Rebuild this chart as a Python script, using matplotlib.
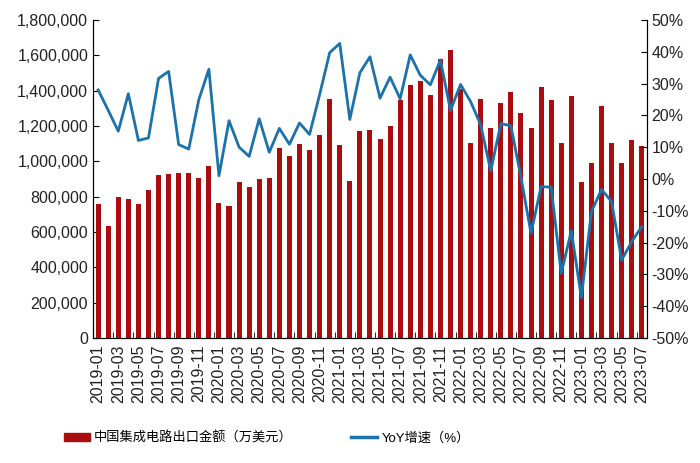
import numpy as np
import pandas as pd
import matplotlib
matplotlib.use("Agg")
import matplotlib.pyplot as plt
from matplotlib.patches import Patch
from matplotlib.lines import Line2D
from matplotlib.ticker import FuncFormatter, MultipleLocator

plt.rcParams['font.family'] = ['Liberation Sans', 'Noto Sans CJK SC', 'DejaVu Sans']

months = pd.date_range("2019-01", "2023-07", freq="MS").strftime("%Y-%m").tolist()

# 中国集成电路出口金额（万美元）
export_value = [
    761000, 633000, 797000, 789000, 761000, 835000, 922000, 929000, 933000, 933000, 905000, 971000,
    765000, 748000, 880000, 852000, 901000, 907000, 1073000, 1031000, 1095000, 1063000, 1148000, 1350000,
    1090000, 890000, 1171000, 1177000, 1127000, 1197000, 1345000, 1430000, 1452000, 1377000, 1577000, 1630000,
    1410000, 1101000, 1350000, 1188000, 1328000, 1392000, 1275000, 1188000, 1420000, 1345000, 1105000, 1371000,
    880000, 988000, 1313000, 1101000, 988000, 1122000, 1084000,
]

# YoY增速（%）
yoy = [
    28.0, 21.6, 15.0, 26.8, 12.1, 12.9, 31.6, 33.8, 10.8, 9.4, 24.9, 34.5,
    1.0, 18.3, 10.0, 7.1, 18.9, 8.4, 15.9, 10.9, 17.6, 14.0, 26.5, 39.7,
    42.6, 18.7, 33.4, 38.4, 25.4, 32.0, 25.2, 39.0, 32.6, 29.6, 37.4, 21.5,
    29.7, 24.3, 17.0, 2.5, 17.4, 16.7, 0.5, -17.1, -2.4, -2.6, -29.7, -16.3,
    -37.3, -10.3, -3.3, -7.1, -25.5, -19.7, -15.0,
]

bar_color = "#A90D0D"
line_color = "#1C72AA"

fig = plt.figure(figsize=(7.0, 4.63), dpi=100)
ax = fig.add_axes([0.133, 0.270, 0.791, 0.687])
x = np.arange(len(months))

ax.bar(x, export_value, width=0.5, color=bar_color, zorder=2)
ax.set_xlim(-0.5, len(months) - 0.5)
ax.set_ylim(0, 1800000)
ax.yaxis.set_major_locator(MultipleLocator(200000))
ax.yaxis.set_major_formatter(FuncFormatter(lambda v, p: f"{int(v):,}"))

ax.set_xticks(x[::2])
ax.set_xticklabels(months[::2], rotation=90, fontsize=11.5, color="#222222")
ax.set_xticks(np.arange(1.5, len(months), 2), minor=True)
ax.tick_params(axis='x', which='major', length=0, pad=5)
ax.tick_params(axis='x', which='minor', direction='in', length=4)
ax.tick_params(axis='y', direction='in', length=4, labelsize=11.5, labelcolor="#222222")
ax.spines['top'].set_visible(False)

ax2 = ax.twinx()
ax2.plot(x, yoy, color=line_color, lw=2.0, zorder=3)
ax2.set_ylim(-50, 50)
ax2.yaxis.set_major_locator(MultipleLocator(10))
ax2.yaxis.set_major_formatter(FuncFormatter(lambda v, p: f"{int(round(v))}%"))
ax2.tick_params(axis='y', direction='in', length=4, labelsize=11.5, labelcolor="#222222")
ax2.spines['top'].set_visible(False)

handles = [Patch(color=bar_color), Line2D([], [], color=line_color, lw=2.5)]
labels = ["中国集成电路出口金额（万美元）", "YoY增速（%）"]
fig.legend(handles, labels, loc='center', bbox_to_anchor=(0.381, 0.054), ncol=2,
           frameon=False, fontsize=9.5, handlelength=2.0, handleheight=0.6,
           handletextpad=0.3, columnspacing=4.4)

fig.savefig("out.png", dpi=100)
